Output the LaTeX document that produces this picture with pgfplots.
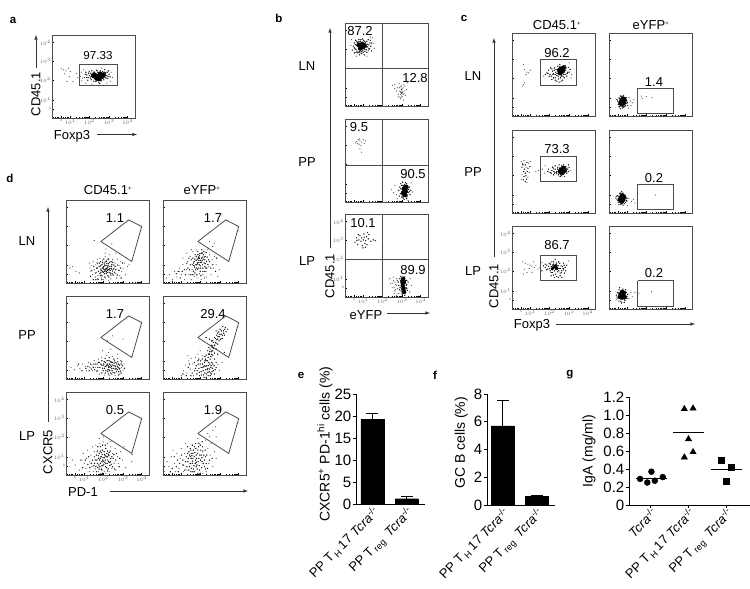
\documentclass[border=0pt]{standalone}
\usepackage{fontspec}
\setmainfont{Liberation Sans}
\usepackage{pgfplots}
\pgfplotsset{compat=1.18}

% all positions are reference pixels, 1px = 1pt
\definecolor{frame}{gray}{0.3}
\pgfplotsset{
  flow/.style={
    anchor=north west, scale only axis, width=83pt, height=83pt,
    xmin=0, xmax=250, ymin=0, ymax=250, y dir=reverse,
    axis line style={frame, line width=0.8pt},
    xtick={28,55,113,172,228}, ytick={23,78,136,195,222},
    minor xtick={5,10,15,20,35,40,45,50,72,83,90,96,100,104,107,110,130,141,148,154,158,162,165,168,189,200,207,213,217,221,224,227},
    minor ytick={5,8,11,14,18,61,50,43,37,33,29,26,120,109,102,96,92,88,85,82,178,167,160,154,150,146,143,140,205,210,215,229,235,240},
    xtick pos=left, ytick pos=left,
    tick align=inside,
    major tick length=2.2pt, minor tick length=1.2pt,
    every tick/.style={black, line width=0.4pt},
    xticklabels={}, yticklabels={},
  },
  withlabels/.style={
    xticklabels={0,$10^1$,$10^2$,$10^3$,$10^4$},
    yticklabels={$10^4$,$10^3$,$10^2$,$10^1$,0},
    xticklabel pos=left, yticklabel pos=left,
    tick label style={font=\fontsize{3.2}{3.2}\selectfont, text=black!60, inner sep=1pt},
    xtick pos=left, ytick pos=left,
  },
  dustm/.style={only marks, mark=*, mark size=0.3pt, black!65, mark options={draw=none}},
  grainm/.style={only marks, mark=*, mark size=0.42pt, black!90, mark options={draw=none}},
  blobm/.style={only marks, mark=*, mark size=2.3pt, black, mark options={draw=none}},
  gate/.style={frame, line width=0.8pt, no marks},
  barax/.style={
    anchor=north west, scale only axis,
    axis x line=bottom, axis y line=left,
    axis line style={-, line width=1pt},
    ymin=0, enlarge y limits=false,
    tick align=outside, major tick length=3pt,
    every tick/.style={black, line width=1pt},
    tick label style={font=\fontsize{15}{15}\selectfont},
    x tick label style={rotate=45, anchor=north east, inner sep=1pt, xshift=2pt, yshift=2.5pt,
      font=\fontsize{13}{13}\selectfont},
    y tick label style={inner sep=1.5pt},
    /pgf/number format/assume math mode=true,
    label style={font=\fontsize{14}{14}\selectfont},
  },
}
\newcommand{\flow}[4]{%
  \begin{axis}[flow, at={(#1pt,-#2pt)}, #3]
  #4
  \end{axis}}
\newcommand{\dust}[1]{\addplot[dustm] coordinates {#1};}
\newcommand{\grain}[1]{\addplot[grainm] coordinates {#1};}
\newcommand{\blob}[1]{\addplot[blobm] coordinates {#1};}
\newcommand{\gaterect}[4]{\addplot[gate] coordinates {(#1,#3)(#2,#3)(#2,#4)(#1,#4)(#1,#3)};}
\newcommand{\trap}{\addplot[gate] coordinates {(105,125)(189,60)(228,80)(198,185)(105,125)};}
\newcommand{\quadr}[1]{\addplot[gate] coordinates {(112,0)(112,250)}; \addplot[gate] coordinates {(0,#1)(250,#1)};}
\newcommand{\txt}[3]{\node[font=\fontsize{13}{13}\selectfont, inner sep=0pt] at (#1pt,-#2pt) {#3};}
\newcommand{\vtxt}[3]{\node[font=\fontsize{13}{13}\selectfont, inner sep=0pt, rotate=90] at (#1pt,-#2pt) {#3};}
\newcommand{\letter}[3]{\node[font=\fontsize{11.5}{11.5}\selectfont\bfseries, inner sep=0pt] at (#1pt,-#2pt) {#3};}
\newcommand{\arr}[4]{\draw[-latex, line width=0.6pt, black!80] (#1pt,-#2pt) -- (#3pt,-#4pt);}
\newcommand{\pos}[1]{#1\textsuperscript{\fontsize{6}{6}\selectfont +}}

\begin{document}
\begin{tikzpicture}
\path[use as bounding box] (0,0) rectangle (750pt,-589pt);

% ---- a ----
\flow{52}{35}{withlabels}{
  \dust{(28,102)(35,105)(50,100)(55,110)(45,140)(63,140)(37,117)(52,125)(84,118)(88,112)(92,130)(86,125)(95,105)(90,138)(102,145)(178,112)(182,128)(176,140)(120,148)(165,145)(150,100)(74,116)(78,128)(42,108)}
  \grain{(105,120)(110,128)(115,115)(118,135)(120,108)(122,127)(126,139)(128,112)(132,140)(134,106)(138,112)(141,142)(146,108)(149,138)(152,110)(156,135)(160,128)(162,114)(165,122)(168,131)(170,108)(172,118)(112,109)(108,136)(100,118)(98,128)(175,126)(158,104)(144,146)}
  \grain{(110,115)(113,122)(116,130)(120,118)(124,112)(127,132)(130,115)(133,138)(136,108)(140,135)(143,112)(147,135)(150,115)(153,130)(157,112)(160,120)(163,130)(166,112)(169,125)(105,128)(102,112)(118,125)}
  \blob{(130,122)(140,125)(150,125)(145,118)(135,130)(155,120)(142,132)(125,122)}
  \gaterect{82}{198}{90}{152}
}
\node[font=\fontsize{11.6}{11.6}\selectfont, inner sep=0pt] at (98pt,-56pt) {97.33};
\arr{36}{68}{36}{35}
\vtxt{36}{94}{CD45.1}
\txt{72}{136}{Foxp3}
\arr{97}{134.5}{137}{134.5}
\letter{13}{20}{a}

% ---- b ----
\flow{345}{23}{}{
  \quadr{138}
  \dust{(82,45)(76,42)(85,62)(20,50)(66,100)(34,100)(18,68)(88,76)(143,188)(150,185)(158,195)(163,182)(168,190)(172,198)(175,186)(178,205)(165,205)(170,212)(160,215)(172,222)(180,190)(185,200)(155,205)(168,228)(175,215)(182,218)(162,222)(150,198)(188,180)(176,232)(165,195)(170,190)(168,215)(172,205)(175,195)(166,225)(170,220)(178,212)}
  \grain{(25,70)(28,60)(30,78)(32,52)(33,88)(35,68)(37,58)(38,90)(42,50)(44,86)(47,55)(50,92)(53,84)(56,52)(60,80)(62,58)(64,72)(66,88)(68,64)(70,50)(72,76)(75,60)(78,70)(80,84)(22,82)(28,90)(44,96)(58,96)(170,200)(168,208)(172,210)}
  \grain{(28,75)(31,65)(33,80)(35,55)(36,85)(38,60)(40,88)(42,56)(45,90)(48,50)(50,86)(53,48)(55,88)(58,55)(60,85)(62,65)(64,80)(66,55)(68,72)(70,82)(72,66)(74,78)(76,52)(80,60)}
  \blob{(42,66)(48,70)(54,72)(46,76)(52,64)(58,68)}
}
\flow{345}{119}{}{
  \quadr{139}
  \dust{(35,68)(40,62)(45,66)(50,70)(55,62)(62,66)(42,76)(48,80)(38,74)(45,90)(50,100)(32,72)(58,74)(44,60)(140,212)(146,222)(150,200)(155,228)(200,192)(204,220)(158,240)(190,246)}
  \grain{(162,215)(165,205)(167,225)(168,195)(170,235)(172,212)(174,190)(175,238)(186,195)(188,232)(190,212)(192,222)(194,205)(196,228)(198,215)(182,192)(178,242)(186,240)(164,232)(170,200)}
  \grain{(168,210)(170,220)(172,200)(172,228)(174,235)(176,200)(186,210)(188,220)(186,228)(188,200)(192,212)(194,218)(184,235)(180,198)}
  \blob{(178,210)(182,218)(176,222)(184,205)(180,228)}
}
\flow{345}{214}{withlabels}{
  \quadr{138}
  \dust{(138,210)(142,222)(146,200)(150,232)(152,212)(156,195)(148,240)(158,225)(135,195)(160,240)(196,195)(200,215)(195,235)(145,190)(155,245)(155,215)(150,205)(158,200)(148,222)(152,228)(162,240)(144,208)}
  \grain{(30,85)(35,72)(38,92)(42,78)(45,65)(48,82)(50,72)(52,95)(55,78)(57,60)(58,70)(60,88)(62,80)(65,68)(66,92)(70,75)(72,62)(78,82)(85,78)(92,80)(40,62)(54,102)(62,100)(36,80)(68,56)(165,195)(168,188)(170,210)(166,222)(169,232)(172,242)(180,190)(183,200)(186,212)(184,222)(182,232)(180,245)(160,205)(190,205)(188,230)}
  \grain{(162,215)(164,228)(168,200)(170,218)(172,228)(170,195)(182,208)(184,215)(186,225)(180,238)(172,238)(186,200)}
  \addplot[only marks, mark=*, mark size=2pt, black, mark options={draw=none}] coordinates {(175,195)(177,205)(174,215)(176,225)(178,235)(173,205)};
}
\txt{360}{31}{87.2}
\txt{415}{78}{12.8}
\txt{359}{127}{9.5}
\txt{413}{174}{90.5}
\txt{363}{223}{10.1}
\txt{413}{270}{89.9}
\txt{307}{66}{LN}
\txt{307}{162}{PP}
\txt{307}{261}{LP}
\arr{330}{248}{330}{28}
\vtxt{330}{276}{CD45.1}
\txt{366}{315}{eYFP}
\arr{387}{313}{430}{313}
\letter{279}{18}{b}

% ---- c ----
\flow{512}{33}{}{
  \gaterect{85}{193}{81}{157}
  \dust{(35,95)(38,110)(42,125)(45,118)(50,120)(55,112)(35,155)(32,160)(38,150)(85,118)(95,130)(180,125)(172,90)(178,135)}
  \grain{(105,120)(110,112)(115,125)(118,130)(122,115)(125,122)(128,105)(130,135)(132,118)(135,128)(138,100)(140,138)(144,95)(148,130)(152,142)(156,125)(160,98)(162,112)(165,130)(168,118)(170,104)(175,110)(158,135)(135,145)(125,135)(142,148)}
  \grain{(120,108)(123,125)(127,112)(130,125)(133,110)(136,122)(139,130)(142,102)(146,135)(150,128)(154,132)(158,115)(160,125)(163,105)(166,122)(172,118)(112,130)(108,122)(120,140)(130,142)(148,145)(116,105)(100,125)}
  \blob{(148,108)(152,115)(145,120)(155,105)(143,112)}
}
\flow{609}{33}{}{
  \gaterect{87}{194}{166}{243}
  \dust{(60,195)(64,205)(70,210)(75,200)(97,190)(112,192)(130,195)(100,197)(66,218)(58,226)}
  \grain{(26,205)(28,215)(30,195)(32,222)(50,195)(52,212)(54,205)(48,222)(34,190)(44,188)(56,218)(40,226)(24,200)(28,208)(30,222)(32,198)(34,228)(48,198)(50,205)(50,218)(44,224)(38,190)(52,195)(56,210)}
  \blob{(38,205)(44,210)(40,215)(46,202)(36,212)(42,198)}
}
\flow{512}{130}{}{
  \gaterect{85}{193}{79}{155}
  \dust{(72,125)(80,122)(92,118)(98,130)(175,122)(100,108)(28,95)(36,92)(50,100)(55,95)(42,112)(52,128)(30,135)(48,142)(28,148)(45,158)}
  \grain{(110,118)(115,128)(120,122)(125,115)(128,130)(130,108)(135,125)(138,112)(140,135)(142,105)(162,110)(165,130)(168,118)(170,105)(150,138)(158,140)(135,132)(32,102)(40,105)(45,98)(30,112)(38,118)(48,115)(35,125)(40,130)(46,125)(36,140)(42,138)(34,150)(40,155)(54,110)(33,105)(44,148)}
  \grain{(118,130)(122,112)(126,125)(130,118)(133,128)(137,118)(140,125)(143,115)(146,135)(150,108)(154,132)(158,112)(162,125)(165,115)(170,125)(172,112)(108,125)(125,135)(145,140)(155,105)}
  \blob{(148,120)(155,115)(145,125)(152,128)(158,122)}
}
\flow{609}{130}{}{
  \gaterect{87}{194}{163}{240}
  \dust{(60,205)(68,215)(74,210)(78,220)(140,196)(56,228)(20,205)}
  \grain{(24,208)(26,198)(28,218)(32,192)(50,200)(52,212)(46,222)(36,224)(42,190)(54,206)(30,225)(22,200)(26,212)(30,200)(34,190)(48,196)(52,205)(50,218)(42,226)(38,186)(54,214)}
  \blob{(36,205)(42,210)(38,215)(44,202)(34,210)(40,198)}
}
\flow{512}{226}{withlabels}{
  \gaterect{85}{193}{89}{164}
  \dust{(33,108)(40,112)(48,115)(55,118)(60,122)(68,125)(72,118)(78,130)(84,125)(38,130)(45,140)(52,128)(60,140)(35,145)(170,105)(90,110)(65,108)}
  \grain{(95,120)(100,125)(105,118)(108,130)(112,112)(115,135)(118,122)(120,108)(122,140)(125,115)(128,135)(130,100)(132,145)(135,118)(138,138)(140,108)(142,128)(145,150)(148,120)(150,135)(155,112)(158,142)(160,125)(118,150)(128,155)(140,155)(150,155)(90,135)(165,118)}
  \grain{(100,115)(104,132)(110,122)(113,128)(116,115)(119,130)(122,118)(124,125)(126,108)(129,118)(131,130)(134,112)(136,125)(139,120)(141,135)(144,112)(146,128)(149,140)(152,122)(154,128)(157,118)(125,148)(135,152)(145,142)(155,132)(118,140)(162,135)}
  \addplot[only marks, mark=*, mark size=1.6pt, black, mark options={draw=none}] coordinates {(128,122)(135,128)(122,128)(132,120)};
}
\flow{609}{226}{}{
  \gaterect{86}{193}{165}{241}
  \dust{(60,205)(66,200)(70,212)(78,200)(90,202)(128,198)(60,218)(22,222)}
  \grain{(22,208)(25,200)(27,218)(30,192)(52,200)(54,212)(48,224)(36,228)(42,190)(56,206)(30,226)(24,214)(28,202)(32,186)(50,192)(54,218)(46,230)(38,232)}
  \blob{(36,205)(42,210)(38,215)(44,202)(34,212)(40,199)(46,214)}
}
\txt{557}{25}{\pos{CD45.1}}
\txt{651}{25}{\pos{eYFP}}
\txt{557}{53}{96.2}
\txt{654}{82}{1.4}
\txt{557}{149}{73.3}
\txt{654}{178}{0.2}
\txt{557}{245}{86.7}
\txt{654}{273}{0.2}
\txt{473}{76}{LN}
\txt{473}{172}{PP}
\txt{473}{271}{LP}
\arr{494}{257}{494}{38}
\vtxt{494}{286}{CD45.1}
\txt{532}{325}{Foxp3}
\arr{556}{324}{695}{324}
\letter{464}{18}{c}

% ---- d ----
\flow{66}{200}{}{
  \trap
  \dust{(70,190)(72,205)(75,215)(78,198)(80,225)(82,185)(85,210)(88,232)(90,195)(92,218)(94,178)(96,228)(98,240)(102,175)(106,235)(110,182)(112,240)(118,170)(120,235)(125,178)(128,242)(132,165)(135,238)(140,180)(145,205)(148,190)(150,222)(152,235)(155,178)(158,212)(160,198)(162,228)(165,185)(168,215)(172,205)(176,190)(180,225)(185,200)(190,195)(150,160)(20,200)(12,205)(30,215)(40,220)(85,122)(138,132)(120,148)(118,160)}
  \grain{(100,200)(105,208)(108,195)(110,215)(112,203)(115,190)(116,222)(118,208)(120,198)(122,215)(124,205)(126,228)(128,192)(130,210)(132,200)(134,220)(136,206)(138,195)(140,214)(142,226)(118,214)(126,202)(114,200)(122,206)(130,218)}
  \grain{(95,205)(98,215)(100,190)(102,222)(104,198)(106,212)(108,228)(110,188)(112,218)(113,208)(116,196)(117,232)(119,186)(121,222)(123,192)(125,212)(127,198)(129,232)(131,188)(133,212)(135,226)(137,200)(139,222)(141,188)(143,208)(146,218)(148,200)(84,200)(88,220)(92,205)(94,190)(96,238)(104,186)(108,240)(114,178)(122,184)(128,178)(136,186)(144,196)(150,210)(154,226)(156,196)(160,212)(164,205)(166,235)(170,190)(78,212)(74,230)(82,240)(90,240)(104,228)(116,210)(124,218)(132,206)(110,205)(120,210)(127,210)(115,215)(105,218)(138,208)}
}
\flow{163}{200}{}{
  \trap
  \dust{(10,235)(20,225)(28,240)(35,215)(42,232)(50,205)(55,225)(60,195)(65,240)(70,210)(75,185)(78,225)(82,170)(85,240)(88,210)(90,155)(95,230)(100,150)(105,235)(110,222)(115,240)(120,225)(125,235)(130,215)(135,150)(138,200)(140,165)(145,225)(148,180)(150,140)(152,205)(155,170)(160,195)(165,230)(170,210)(155,130)(140,125)(130,232)(85,150)(72,160)(60,175)(45,215)}
  \grain{(92,190)(96,178)(100,170)(102,195)(105,165)(108,182)(110,175)(112,198)(115,160)(116,188)(118,172)(120,205)(122,165)(125,180)(128,192)(130,158)(104,208)(112,215)(95,202)(118,183)(106,188)(100,182)(124,172)}
  \grain{(90,175)(93,198)(97,165)(99,195)(103,178)(104,155)(107,172)(109,195)(111,162)(113,182)(114,205)(117,150)(119,195)(121,178)(123,155)(126,200)(127,170)(129,205)(131,185)(133,172)(135,195)(137,180)(88,195)(85,180)(82,195)(80,210)(78,175)(75,205)(72,190)(68,225)(64,210)(58,215)(52,235)(48,215)(40,222)(92,215)(96,220)(102,225)(108,205)(114,228)(120,215)(126,215)(132,205)(140,185)(144,205)(150,195)(158,215)(162,175)(100,205)(106,175)(112,188)(118,160)(124,190)(94,185)(110,168)(116,176)(104,190)(98,210)(90,225)(84,225)}
}
\flow{66}{296}{}{
  \trap
  \dust{(15,215)(25,222)(35,210)(42,218)(50,205)(58,212)(62,225)(68,200)(72,215)(78,208)(80,225)(85,195)(88,215)(92,228)(95,205)(98,190)(100,235)(108,185)(115,238)(122,178)(130,240)(140,182)(148,240)(155,188)(162,235)(165,195)(168,215)(172,225)(175,205)(128,170)(110,165)(155,175)(125,135)(140,120)(172,130)(135,160)}
  \grain{(105,205)(110,218)(115,198)(118,212)(120,225)(125,205)(128,215)(130,195)(132,225)(135,208)(138,218)(140,200)(142,230)(145,210)(148,220)(150,200)(152,228)(155,212)(158,205)(160,220)(125,222)(112,208)(135,198)(145,202)(120,212)(130,212)}
  \grain{(100,200)(102,215)(108,208)(112,225)(114,205)(116,218)(118,200)(122,208)(124,195)(126,228)(127,210)(129,222)(131,205)(133,215)(134,232)(136,200)(137,212)(139,225)(141,208)(143,218)(146,195)(147,232)(149,212)(151,218)(153,205)(154,222)(156,198)(157,215)(159,228)(161,208)(162,218)(164,226)(166,205)(168,198)(96,215)(94,225)(90,205)(86,222)(84,205)(82,215)(76,220)(74,205)(70,225)(66,212)(108,232)(118,232)(128,235)(138,235)(158,238)(144,190)(130,185)(118,188)(108,195)(98,200)(170,210)(166,232)(176,218)(60,218)(48,225)(38,205)}
}
\flow{163}{296}{}{
  \trap
  \dust{(55,240)(62,225)(68,208)(72,232)(78,195)(82,220)(85,188)(90,205)(92,240)(98,185)(105,175)(112,165)(118,180)(165,205)(170,225)(178,200)(75,180)}
  \grain{(150,135)(155,125)(158,140)(162,118)(165,130)(168,108)(170,122)(172,100)(175,115)(178,128)(182,105)(185,118)(188,95)(190,108)(165,145)(155,150)(148,150)(180,92)(160,105)(140,130)(130,125)(195,100)(135,165)(138,155)(140,175)(142,160)(145,168)(148,155)(150,178)(136,185)(142,190)(150,165)(155,172)(130,178)(128,190)(145,148)(160,160)(165,175)(185,170)(155,190)(95,225)(100,210)(102,235)(105,195)(108,218)(110,240)(112,205)(115,228)(118,190)(120,215)(122,238)(125,200)(128,222)(130,245)(132,210)(135,230)(138,200)(140,220)(142,240)(145,210)(148,228)(150,205)(155,235)(160,215)(125,210)(115,215)(135,218)}
  \grain{(98,218)(103,225)(106,205)(109,230)(113,195)(116,238)(119,205)(121,225)(123,212)(124,245)(126,232)(127,195)(129,212)(131,235)(133,222)(134,195)(136,240)(137,210)(139,228)(141,205)(143,232)(144,215)(146,235)(147,200)(149,218)(152,225)(154,210)(157,222)(160,200)(126,182)(132,195)(137,175)(141,168)(144,182)(146,176)(148,165)(152,158)(156,148)(158,128)(160,142)(162,132)(164,112)(166,122)(169,135)(171,115)(173,130)(176,105)(179,118)(183,112)(186,100)(152,140)(146,135)(88,232)(84,240)(76,215)(70,240)(60,235)(80,205)(95,200)(108,190)}
}
\flow{66}{392}{withlabels}{
  \trap
  \dust{(20,205)(28,220)(40,235)(52,185)(55,215)(60,230)(62,200)(65,175)(70,240)(72,210)(75,190)(78,225)(80,165)(82,240)(85,180)(88,232)(90,160)(95,175)(98,240)(102,155)(105,245)(112,150)(115,240)(120,245)(125,155)(130,240)(135,165)(138,230)(140,185)(145,215)(148,170)(150,235)(155,195)(158,215)(165,180)(170,205)(175,165)(180,228)(198,210)(200,188)(112,135)(100,140)(135,150)}
  \grain{(88,205)(92,190)(95,215)(98,200)(100,185)(102,225)(105,195)(108,210)(110,175)(112,198)(114,218)(116,188)(118,205)(120,170)(122,228)(125,195)(128,210)(130,182)(132,222)(135,200)(106,182)(118,192)(96,228)(108,235)(125,178)}
  \grain{(85,195)(86,215)(90,225)(93,205)(94,180)(97,192)(99,220)(101,205)(103,178)(104,215)(106,232)(107,195)(109,188)(111,222)(113,208)(115,180)(117,212)(119,225)(121,195)(123,185)(124,215)(126,205)(127,232)(129,192)(131,212)(133,178)(134,210)(136,218)(138,195)(140,225)(142,200)(144,188)(146,232)(150,205)(152,185)(160,225)(162,200)(80,205)(76,215)(72,228)(68,195)(66,218)(58,205)(50,228)(45,205)(110,160)(118,160)(104,165)(96,165)(84,222)(92,240)(100,232)(110,245)(125,238)(108,222)(116,198)(110,205)(120,215)(103,200)(128,188)}
}
\flow{163}{392}{}{
  \trap
  \dust{(5,240)(12,210)(18,225)(25,195)(30,175)(35,215)(38,240)(42,185)(48,230)(52,200)(55,170)(58,220)(62,240)(65,185)(68,155)(72,235)(130,240)(135,170)(138,215)(142,190)(145,155)(150,225)(155,180)(160,200)(120,245)(128,145)(135,125)(150,115)(158,105)(160,135)(140,135)(105,140)}
  \grain{(70,195)(75,210)(78,180)(80,225)(82,170)(85,200)(88,215)(90,185)(92,232)(95,165)(98,205)(100,190)(102,220)(105,175)(108,200)(110,235)(112,160)(115,190)(118,210)(120,178)(125,225)(128,195)(95,240)(105,245)(85,185)(100,212)(90,200)}
  \grain{(68,210)(72,225)(74,185)(76,200)(78,235)(80,190)(82,215)(84,175)(86,230)(87,192)(89,208)(91,175)(93,222)(94,195)(96,182)(97,215)(99,170)(101,200)(103,232)(104,185)(106,210)(107,165)(109,222)(111,190)(113,205)(114,175)(116,228)(117,198)(119,165)(121,215)(123,190)(125,205)(127,175)(130,215)(132,190)(134,230)(60,205)(56,190)(50,215)(46,240)(44,205)(40,225)(34,195)(28,230)(22,240)(62,220)(66,235)(84,240)(112,245)(128,232)(140,205)(148,200)(118,150)(108,155)(98,155)(88,160)(74,165)(100,225)(90,240)(82,195)}
}
\txt{108}{190}{\pos{CD45.1}}
\txt{202}{190}{\pos{eYFP}}
\txt{115}{218}{1.1}
\txt{213}{218}{1.7}
\txt{115}{314}{1.7}
\txt{213}{314}{29.4}
\txt{115}{410}{0.5}
\txt{213}{410}{1.9}
\txt{27}{241}{LN}
\txt{27}{335}{PP}
\txt{27}{436}{LP}
\arr{48}{422}{48}{207}
\vtxt{48}{452}{CXCR5}
\txt{83}{492}{PD-1}
\arr{110}{491}{248}{491}
\letter{10}{178}{d}

% ---- e ----
\begin{axis}[barax, at={(356pt,-394pt)}, width=69pt, height=110pt,
  xmin=-0.485, xmax=1.544, ymax=25,
  ybar, bar width=23pt,
  xtick={0,1}, xticklabels={PP T\,\textsubscript{H}\,17 \textit{Tcra}\textsuperscript{-/-},PP T\,\textsubscript{reg}\, \textit{Tcra}\textsuperscript{-/-}},
  x tick style={draw=none},
  ytick={0,5,10,15,20,25},
  ylabel={CXCR5\textsuperscript{+} PD-1\textsuperscript{hi} cells (\%)},
  ylabel style={at={(axis description cs:-0.45,0.545)}, anchor=center},
]
\addplot[fill=black, draw=black, error bars/.cd, y dir=plus, y explicit,
  error bar style={line width=1pt, black}, error mark options={rotate=90, mark size=6pt, line width=1pt, black}]
  coordinates {(0,19.2) +- (0,1.3) (1,1.2) +- (0,0.6)};
\end{axis}
\letter{301}{375}{e}

% ---- f ----
\begin{axis}[barax, at={(487pt,-394pt)}, width=68pt, height=111pt,
  xmin=-0.456, xmax=1.544, ymax=8,
  ybar, bar width=23pt,
  xtick={0,1}, xticklabels={PP T\,\textsubscript{H}\,17 \textit{Tcra}\textsuperscript{-/-},PP T\,\textsubscript{reg}\, \textit{Tcra}\textsuperscript{-/-}},
  x tick style={draw=none},
  ytick={0,2,4,6,8},
  ylabel={GC B cells (\%)},
  ylabel style={at={(axis description cs:-0.38,0.56)}, anchor=center},
]
\addplot[fill=black, draw=black, error bars/.cd, y dir=plus, y explicit,
  error bar style={line width=1pt, black}, error mark options={rotate=90, mark size=6pt, line width=1pt, black}]
  coordinates {(0,5.7) +- (0,1.85) (1,0.6) +- (0,0.12)};
\end{axis}
\letter{435}{375}{f}

% ---- g ----
\begin{axis}[barax, at={(629pt,-397pt)}, width=121pt, height=108pt,
  xmin=-0.573, xmax=2.625, ymax=1.2,
  xtick={0,1,2}, xticklabels={\textit{Tcra}\textsuperscript{-/-},PP T\,\textsubscript{H}\,17 \textit{Tcra}\textsuperscript{-/-},PP T\,\textsubscript{reg}\, \textit{Tcra}\textsuperscript{-/-}},
  ytick={0,0.2,0.4,0.6,0.8,1.0,1.2},
  yticklabels={0,0.2,0.4,0.6,0.8,1.0,1.2},
  ylabel={IgA (mg/ml)},
  ylabel style={at={(axis description cs:-0.33,0.5)}, anchor=center},
]
\addplot[only marks, mark=*, mark size=3pt, black] coordinates {(-0.28,0.29)(-0.09,0.25)(0.02,0.37)(0.11,0.27)(0.32,0.31)};
\addplot[only marks, mark=triangle*, mark size=3.6pt, black] coordinates {(0.89,1.067)(1.12,1.074)(1,0.733)(1.12,0.589)(0.89,0.53)};
\addplot[only marks, mark=square*, mark size=3pt, black] coordinates {(1.876,0.496)(2.12,0.422)(2,0.27)};
\addplot[black, line width=0.9pt, no marks] coordinates {(-0.39,0.3)(0.42,0.3)};
\addplot[black, line width=0.9pt, no marks] coordinates {(0.59,0.804)(1.42,0.804)};
\addplot[black, line width=0.9pt, no marks] coordinates {(1.6,0.4)(2.42,0.4)};
\end{axis}
\letter{570}{375}{g}

\end{tikzpicture}
\end{document}
